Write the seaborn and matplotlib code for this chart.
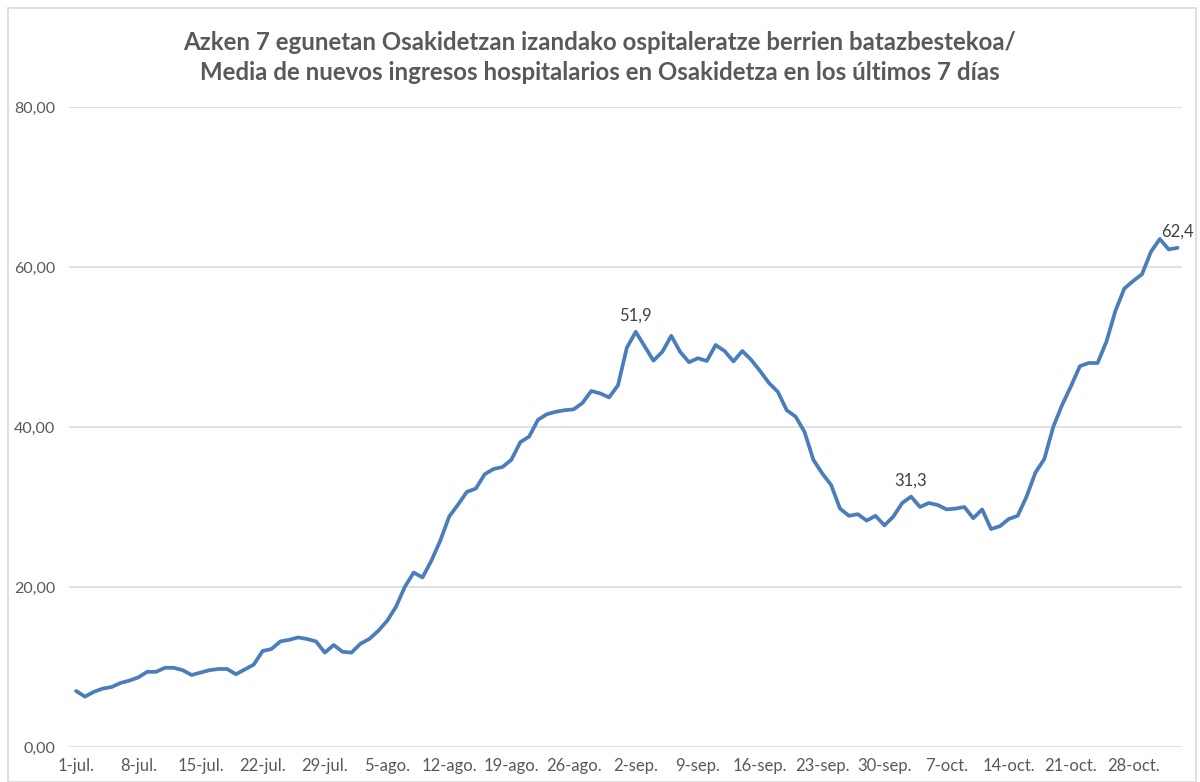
import matplotlib
matplotlib.use("Agg")
import matplotlib.pyplot as plt
import seaborn as sns
import pandas as pd
from matplotlib.patches import Rectangle

# ---- data ----
values = [
    7.0, 6.3, 6.9, 7.3, 7.5, 8.0, 8.3, 8.7, 9.4, 9.4,
    9.9, 9.9, 9.6, 9.0, 9.3, 9.6, 9.75, 9.75, 9.1, 9.7,
    10.3, 12.0, 12.25, 13.2, 13.4, 13.7, 13.5, 13.2, 11.8, 12.75,
    11.9, 11.8, 12.9, 13.5, 14.5, 15.75, 17.5, 20.0, 21.8, 21.2,
    23.3, 25.8, 28.8, 30.3, 31.9, 32.3, 34.1, 34.75, 35.0, 35.9,
    38.1, 38.8, 40.9, 41.6, 41.9, 42.1, 42.2, 43.0, 44.5, 44.2,
    43.7, 45.2, 49.9, 51.9, 50.1, 48.3, 49.4, 51.4, 49.4, 48.1,
    48.6, 48.25, 50.25, 49.5, 48.2, 49.5, 48.4, 47.0, 45.5, 44.4,
    42.1, 41.3, 39.4, 35.9, 34.2, 32.75, 29.8, 28.9, 29.1, 28.3,
    28.9, 27.7, 28.8, 30.5, 31.3, 30.0, 30.5, 30.25, 29.7, 29.8,
    30.0, 28.6, 29.7, 27.25, 27.6, 28.5, 28.9, 31.3, 34.3, 36.0,
    40.0, 42.75, 45.1, 47.6, 48.0, 48.0, 50.7, 54.5, 57.3, 58.25,
    59.1, 61.9, 63.5, 62.2, 62.4,
]
days = list(range(len(values)))
tick_days = [0, 7, 14, 21, 28, 35, 42, 49, 56, 63, 70, 77, 84, 91, 98, 105, 112, 119]
tick_labels = ["1-jul.", "8-jul.", "15-jul.", "22-jul.", "29-jul.", "5-ago.", "12-ago.",
               "19-ago.", "26-ago.", "2-sep.", "9-sep.", "16-sep.", "23-sep.", "30-sep.",
               "7-oct.", "14-oct.", "21-oct.", "28-oct."]
y_ticks = [0, 20, 40, 60, 80]
y_tick_labels = ["0,00", "20,00", "40,00", "60,00", "80,00"]
label_days = [63, 94, 124]
label_texts = ["51,9", "31,3", "62,4"]
title_lines = ["Azken 7 egunetan Osakidetzan izandako ospitaleratze berrien batazbestekoa/",
               "Media de nuevos ingresos hospitalarios en Osakidetza en los últimos 7 días"]

df = pd.DataFrame({"day": days, "value": values})

sns.set_style("white")
plt.rcParams["font.family"] = ["Lato", "DejaVu Sans"]

fig = plt.figure(figsize=(12.0, 7.82), dpi=100)
ax = fig.add_axes([69 / 1200, 35 / 782, (1182 - 69) / 1200, (747 - 107) / 782])

# chart-area border
fig.patches.append(Rectangle((8 / 1200, 0.0), (1196 - 8) / 1200, (782 - 8) / 782,
                             transform=fig.transFigure, fill=False,
                             edgecolor="#D9D9D9", linewidth=1.2))

sns.lineplot(data=df, x="day", y="value", ax=ax, color="#4A7EBB", linewidth=2.7)

ax.set_xlim(-0.8, 124.5)
ax.set_ylim(0, 80)
ax.set_yticks(y_ticks)
ax.set_yticklabels(y_tick_labels)
ax.set_xticks(tick_days)
ax.set_xticklabels(tick_labels)
ax.tick_params(axis="x", length=0, labelsize=12, labelcolor="#595959", pad=8)
ax.tick_params(axis="y", length=0, labelsize=11.5, labelcolor="#595959", pad=10)
ax.set_xlabel("")
ax.set_ylabel("")
ax.yaxis.grid(True, color="#D9D9D9", linewidth=1.1)
ax.xaxis.grid(False)
for s in ax.spines.values():
    s.set_visible(False)
ax.set_axisbelow(True)

for d, t in zip(label_days, label_texts):
    ax.annotate(t, (d, values[d]), xytext=(0, 6), textcoords="offset points",
                ha="center", va="bottom", fontsize=12, color="#404040")

fig.text(0.5, (782 - 42) / 782, title_lines[0], ha="center", va="center",
         fontsize=17.3, fontweight="bold", color="#595959")
fig.text(0.5, (782 - 73) / 782, title_lines[1], ha="center", va="center",
         fontsize=17.3, fontweight="bold", color="#595959")

fig.savefig("out.png", dpi=100)
